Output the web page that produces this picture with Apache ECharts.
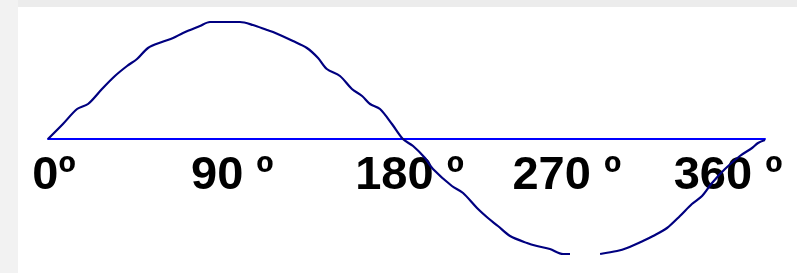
<!DOCTYPE html>
<html>
<head>
<meta charset="utf-8">
<script src="https://cdn.jsdelivr.net/npm/echarts@6/dist/echarts.min.js"></script>
<style>
html,body{margin:0;padding:0;background:#ececec;}
#c{width:797px;height:273px;}
</style>
</head>
<body>
<div id="c"></div>
<script>
// Degrees along the x axis
const tickValues = [0, 90, 180, 270, 360];
const tickLabels = ['0º', '90 º', '180 º', '270 º', '360 º'];
// Wave samples: [degrees, amplitude]
const waveDeg = [0, 7.5, 14.6, 20.1, 27.1, 33.6, 39.7, 44.7, 50.2, 57.2, 62.8, 67.8, 76.3, 81.3, 96.4, 102.9, 110, 113, 123, 130, 135.6, 140, 146.6, 152.6, 157.7, 161.7, 166.7, 172.7, 178.2, 183.3, 189.3, 193.3, 202.8, 208.4, 215.4, 220.9, 225.9, 232, 240.5, 245.5, 252, 258.6, 262.1, 270, 277.2, 285.7, 290.7, 298.7, 303.8, 310.8, 317.3, 323.3, 328.4, 333.4, 339.9, 347.4, 353.5, 356.5, 360];
const waveVal = [0, 15, 30, 35, 50, 63, 73, 80, 91, 97, 101, 106, 113, 117, 117, 114, 109, 107, 98, 91, 81, 70, 63, 50, 43, 35, 30, 15, 0, -7, -19, -30, -47, -54, -69, -79, -87, -97, -104, -107, -110, -115, -115, null, -115, -112, -109, -102, -97, -89, -77, -65, -57, -44, -30, -17, -9, -4, -1];

const labelShift = [6, 5, 3, -19, -37];

const chart = echarts.init(document.getElementById('c'), null, {renderer: 'canvas'});

chart.setOption({
  animation: false,
  backgroundColor: 'transparent',
  graphic: [
    {type: 'rect', left: 0, top: 0, shape: {width: 18, height: 273}, style: {fill: '#f2f2f2'}, z: -10},
    {type: 'rect', left: 18, top: 7, shape: {width: 779, height: 266}, style: {fill: '#ffffff'}, z: -10}
  ],
  grid: {left: 48, right: 32, top: 19, bottom: 14, containLabel: false, outerBoundsMode: 'none'},
  xAxis: {
    type: 'value', min: 0, max: 360, interval: 90,
    axisLine: {show: true, onZero: true, lineStyle: {color: '#0000ff', width: 2, opacity: 1}},
    axisTick: {show: false},
    splitLine: {show: false},
    axisLabel: {show: false}
  },
  yAxis: {
    type: 'value', min: -120, max: 120,
    show: false, splitLine: {show: false}
  },
  series: [{
    type: 'scatter',
    z: 1,
    symbolSize: 0,
    silent: true,
    itemStyle: {opacity: 1},
    data: tickValues.map((v, i) => ({
      value: [v, 0],
      label: {offset: [labelShift[i], 0]}
    })),
    label: {
      show: true,
      position: 'bottom',
      distance: 14,
      formatter: function (p) { return tickLabels[p.dataIndex]; },
      fontFamily: "'Liberation Sans', Arial, sans-serif",
      fontWeight: 'bold',
      fontSize: 47,
      lineHeight: 47,
      color: '#000000',
      opacity: 1
    }
  }, {
    type: 'line',
    data: waveDeg.map((d, i) => [d, waveVal[i]]),
    showSymbol: false,
    connectNulls: false,
    smooth: 0.3,
    lineStyle: {color: '#000080', width: 2.2},
    z: 5
  }]
});
</script>
</body>
</html>
